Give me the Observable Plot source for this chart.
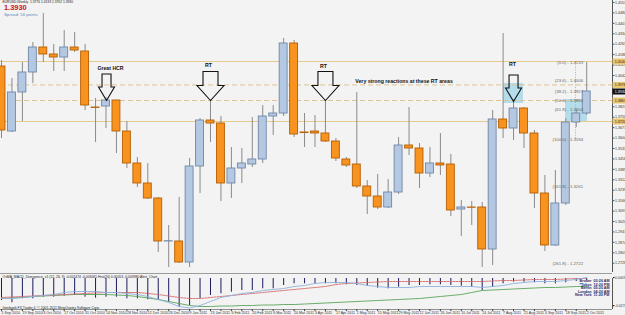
<!DOCTYPE html>
<html><head><meta charset="utf-8">
<script src="https://cdn.jsdelivr.net/npm/d3@7"></script>
<script src="https://cdn.jsdelivr.net/npm/@observablehq/plot@0.6"></script>
<style>
html,body{margin:0;padding:0;background:#f3f3f3;}
#wrap{position:relative;width:625px;height:315px;overflow:hidden;background:#f3f3f3;font-family:"Liberation Sans",Arial,sans-serif;}
#wrap svg{position:absolute;left:0;display:block;}
.sep{position:absolute;left:0;width:612px;height:1px;background:#9c9c9c;}
</style></head><body><div id="wrap"></div>
<script>
// ---------- data ----------
const symbolName = "EURUSD,Weekly";
const spreadText = "Spread: 56 points";
const dateLabels = ["5 Sep 2010","19 Sep 2010","3 Oct 2010","17 Oct 2010","31 Oct 2010","14 Nov 2010","28 Nov 2010","12 Dec 2010","26 Dec 2010","9 Jan 2011","23 Jan 2011","6 Feb 2011","20 Feb 2011","6 Mar 2011","20 Mar 2011","3 Apr 2011","17 Apr 2011","1 May 2011","15 May 2011","29 May 2011","12 Jun 2011","26 Jun 2011","10 Jul 2011","24 Jul 2011","7 Aug 2011","21 Aug 2011","4 Sep 2011","18 Sep 2011","2 Oct 2011"];
const open = [1.4105,1.3650,1.3923,1.4063,1.4238,1.4189,1.4168,1.4238,1.4210,1.3818,1.3825,1.3867,1.3650,1.3426,1.3286,1.3181,1.2880,1.2880,1.2733,1.3405,1.3727,1.3706,1.3286,1.3391,1.3419,1.3454,1.3755,1.3776,1.4266,1.3643,1.3650,1.3636,1.3580,1.3454,1.3419,1.3265,1.3195,1.3118,1.3223,1.3552,1.3531,1.3356,1.3426,1.3419,1.3104,1.3118,1.3118,1.2824,1.3734,1.3671,1.3811,1.3636,1.3216,1.2852,1.3146,1.3713,1.3776];
const high = [1.4147,1.4021,1.4133,1.4273,1.4476,1.4259,1.4357,1.4343,1.4259,1.3881,1.3888,1.3870,1.3720,1.3468,1.3426,1.3188,1.2992,1.3188,1.3461,1.3741,1.3867,1.3755,1.3538,1.3531,1.3748,1.3832,1.3832,1.4301,1.4287,1.3776,1.3762,1.3867,1.3601,1.3468,1.3923,1.3307,1.3349,1.3314,1.3608,1.3818,1.3566,1.3538,1.3636,1.3489,1.3167,1.3160,1.3153,1.3797,1.4336,1.3874,1.3818,1.3657,1.3342,1.3377,1.3741,1.3797,1.4133];
const low = [1.3601,1.3643,1.3720,1.3986,1.4133,1.4070,1.4070,1.4203,1.3797,1.3573,1.3671,1.3496,1.3391,1.3258,1.3174,1.2803,1.2698,1.2726,1.2698,1.3216,1.3573,1.3160,1.3181,1.3286,1.3398,1.3426,1.3622,1.3755,1.3608,1.3538,1.3538,1.3573,1.3440,1.3398,1.3251,1.3069,1.3104,1.3111,1.3209,1.3482,1.3251,1.3328,1.3342,1.3055,1.2915,1.2992,1.2698,1.2712,1.3601,1.3587,1.3531,1.3111,1.2810,1.2845,1.3132,1.3678,1.3762];
const close = [1.3657,1.3923,1.4063,1.4238,1.4189,1.4168,1.4238,1.4217,1.3832,1.3815,1.3867,1.3650,1.3426,1.3286,1.3181,1.2880,1.2882,1.2733,1.3405,1.3727,1.3706,1.3286,1.3391,1.3426,1.3454,1.3755,1.3776,1.4266,1.3629,1.3639,1.3636,1.3580,1.3461,1.3412,1.3265,1.3195,1.3118,1.3223,1.3552,1.3531,1.3356,1.3426,1.3412,1.3097,1.3118,1.3116,1.2824,1.3734,1.3671,1.3811,1.3636,1.3216,1.2852,1.3146,1.3713,1.3776,1.3930];

const priceTicks = [1.4553,1.4480,1.4407,1.4334,1.4261,1.4188,1.4115,1.4042,1.3823,1.3750,1.3677,1.3604,1.3531,1.3458,1.3385,1.3312,1.3239,1.3166,1.3093,1.3020,1.2947,1.2874,1.2801,1.2728];
const levelsSolid = [1.4140, 1.3720];
const levelsDashed = [1.3976, 1.3867];
const fibLevels = [0, 23.6, 38.2, 50, 61.8, 100, 161.8, 261.8];
const fibPrices = [1.4133, 1.4006, 1.3927, 1.3864, 1.3800, 1.3594, 1.3261, 1.2722];
const fibLineIndex = 54.93, fibLabelIndex = 55.65;
const zoneStart = [48.04, 53.97], zoneEnd = [49.95, 56.08], zoneTop = [1.3986, 1.3874], zoneBottom = [1.3846, 1.3713];
const arrowIndex = [10.05, 20.0, 31.0, 49.0], arrowTip = [1.3867, 1.3867, 1.3867, 1.3860], arrowKind = ["small","big","big","small"];
const noteText = ["Great HCR", "RT", "RT", "RT", "Very strong reactions at these RT areas"];
const noteIndex = [10.43, 19.8, 30.8, 48.9, 38.52];
const notePrice = [1.4091, 1.4112, 1.4105, 1.4119, 1.4000];

const osma = [-0.022,-0.0243,-0.0203,-0.0203,-0.0187,-0.0187,-0.0177,-0.017,-0.0187,-0.0197,-0.0187,-0.0187,-0.0203,-0.0203,-0.0213,-0.022,-0.0237,-0.0287,-0.027,-0.0203,-0.017,-0.0153,-0.0137,-0.012,-0.012,-0.0103,-0.0103,-0.007,-0.0053,-0.0053,-0.0053,-0.0053,-0.0053,-0.0063,-0.007,-0.0077,-0.0097,-0.0103,-0.0087,-0.007,-0.007,-0.0063,-0.0063,-0.007,-0.0077,-0.0087,-0.012,-0.0087,-0.0053,-0.0037,-0.0037,-0.0043,-0.0053,-0.0053,-0.0043,-0.003,-0.002];
const blueLine = [-0.020,-0.020,-0.019,-0.018,-0.017,-0.016,-0.014,-0.013,-0.013,-0.013,-0.014,-0.014,-0.015,-0.016,-0.018,-0.021,-0.024,-0.028,-0.0295,-0.027,-0.023,-0.019,-0.017,-0.015,-0.014,-0.012,-0.011,-0.010,-0.008,-0.007,-0.005,-0.004,-0.004,-0.004,-0.005,-0.007,-0.008,-0.009,-0.009,-0.009,-0.008,-0.008,-0.008,-0.008,-0.008,-0.008,-0.009,-0.008,-0.007,-0.005,-0.004,-0.003,-0.003,-0.003,-0.002,-0.001,0.001];
const redLine = [-0.019,-0.0185,-0.018,-0.0175,-0.017,-0.0165,-0.016,-0.0155,-0.015,-0.0145,-0.014,-0.014,-0.014,-0.014,-0.015,-0.016,-0.0175,-0.019,-0.020,-0.020,-0.019,-0.018,-0.017,-0.016,-0.015,-0.014,-0.013,-0.012,-0.011,-0.010,-0.009,-0.008,-0.006,-0.005,-0.0045,-0.004,-0.0035,-0.003,-0.003,-0.003,-0.003,-0.003,-0.003,-0.003,-0.003,-0.003,-0.003,-0.0025,-0.002,-0.002,-0.0015,-0.001,-0.001,-0.001,-0.0005,0,0];
const greenLine = [-0.020,-0.0195,-0.019,-0.018,-0.0175,-0.017,-0.0165,-0.016,-0.016,-0.016,-0.016,-0.0165,-0.017,-0.018,-0.0195,-0.021,-0.023,-0.025,-0.027,-0.028,-0.028,-0.0275,-0.0275,-0.027,-0.027,-0.0265,-0.0265,-0.026,-0.026,-0.0255,-0.025,-0.0245,-0.024,-0.0235,-0.023,-0.0225,-0.022,-0.0215,-0.021,-0.0205,-0.020,-0.019,-0.018,-0.017,-0.016,-0.014,-0.012,-0.0115,-0.011,-0.0105,-0.010,-0.0095,-0.009,-0.009,-0.0085,-0.008,-0.008];
const indTicks = [0.0009, -0.0272];
const indTitle = "OsMA_MACD_Divergence_v1 (12, 26, 9) -0.002474 -0.003065 Hist(20) 0.00053 -0.003980 Alert_Chart";
const copyright = "Interbank FX Trader 4, \u00a9 2001-2011 MetaQuotes Software Corp.";
const clockCities = ["Broker", "*Tokyo", "Berlin", "London", "New York"];
const clockTimes = ["03:20 AM", "12:20 PM", "05:20 AM", "04:20 AM", "11:20 PM"];

// ---------- build ----------
const xDomain = [-0.0957, 58.469];
const FONT = "'Liberation Sans', Arial, sans-serif";
const candles = open.map((o, i) => ({i, open: o, high: high[i], low: low[i], close: close[i], up: close[i] >= o}));
const last = candles[candles.length - 1];
const f4 = d => d.toFixed(4);
const headerLine = `${symbolName}  ${f4(last.open)} ${f4(last.high)} ${f4(last.low)} ${f4(last.close)}`;
const zones = zoneStart.map((s, k) => ({i1: s, i2: zoneEnd[k], top: zoneTop[k], bottom: zoneBottom[k]}));
const fib = fibLevels.map((l, k) => ({level: l, price: fibPrices[k]}));
const arrows = arrowIndex.map((x, k) => ({i: x, tip: arrowTip[k], kind: arrowKind[k]}));
const notes = noteText.map((t, k) => ({text: t, i: noteIndex[k], price: notePrice[k]}));
const highlights = [
  ...levelsSolid.map(p => ({price: p, bg: "#e9c770", fg: "#222"})),
  ...levelsDashed.map(p => ({price: p, bg: "#e9c770", fg: "#222"})),
  {price: last.close, bg: "#111", fg: "#fff"}
];

function arrowSymbol(shaftW, headW, shaftH, headH) {
  return {draw(ctx) {
    const s = shaftW / 2, h = headW / 2, H = shaftH + headH;
    ctx.moveTo(0, 0); ctx.lineTo(-h, -headH); ctx.lineTo(-s, -headH); ctx.lineTo(-s, -H);
    ctx.lineTo(s, -H); ctx.lineTo(s, -headH); ctx.lineTo(h, -headH); ctx.closePath();
  }};
}
const smallArrow = arrowSymbol(9, 16, 13, 13.5);
const bigArrow = arrowSymbol(15, 27, 14, 15);

const priceChart = Plot.plot({
  width: 625, height: 273,
  marginLeft: 0, marginRight: 13, marginTop: 0, marginBottom: 1,
  style: {background: "transparent", fontFamily: FONT, overflow: "visible"},
  x: {domain: xDomain, axis: null},
  y: {domain: [1.2663, 1.4567], label: null},
  marks: [
    Plot.rect(zones, {x1: "i1", x2: "i2", y1: "top", y2: "bottom", fill: "#9fd5ea", fillOpacity: 0.75}),
    Plot.ruleY(levelsSolid, {stroke: "#e6c98c", strokeWidth: 1}),
    Plot.ruleY(levelsDashed, {stroke: "#dcc496", strokeWidth: 1, strokeDasharray: "5,3"}),
    Plot.ruleX([{i: fibLineIndex, a: fibPrices[0], b: fibPrices[5]}], {x: "i", y1: "a", y2: "b", stroke: "#e59a9a", strokeDasharray: "1,1.5"}),
    Plot.ruleX(candles, {x: "i", y1: "low", y2: "high", stroke: "#8a8a8a", strokeWidth: 1}),
    Plot.rect(candles, {x1: d => d.i - 0.38, x2: d => d.i + 0.38, y1: "open", y2: "close",
      fill: d => d.up ? "#b5c8e1" : "#f7931e", stroke: d => d.up ? "#6f87a8" : "#b65f05", strokeWidth: 0.9}),
    Plot.text(fib, {x: () => fibLabelIndex, y: "price", text: d => `(${d.level.toFixed(1)}) - ${f4(d.price)}`,
      textAnchor: "end", fontSize: 4.3, fill: "#666"}),
    Plot.dot(arrows.filter(d => d.kind === "small"), {x: "i", y: "tip", symbol: smallArrow, fill: "none", stroke: "#111", strokeWidth: 1.1}),
    Plot.dot(arrows.filter(d => d.kind === "big"), {x: "i", y: "tip", symbol: bigArrow, fill: "none", stroke: "#111", strokeWidth: 1.1}),
    Plot.text(notes, {x: "i", y: "price", text: "text", fontSize: 5.2, fontWeight: "bold", fill: "#111"}),
    Plot.ruleX([xDomain[1]], {stroke: "#555", strokeWidth: 1}),
    Plot.axisY({anchor: "right", ticks: priceTicks, tickFormat: f4, tickSize: 1.5, tickPadding: 1, fontSize: 3.6, fill: "#333", stroke: "#555", label: null}),
    Plot.ruleY(highlights, {y: "price", x1: () => xDomain[1] + 0.05, x2: () => xDomain[1] + 1.5, stroke: "bg", strokeWidth: 6}),
    Plot.text(highlights, {y: "price", frameAnchor: "right", dx: 2.3, textAnchor: "start", text: d => f4(d.price), fontSize: 3.6, fill: "fg"}),
    Plot.text([headerLine], {text: d => d, frameAnchor: "top-left", dx: 2, dy: 0.6, fontSize: 3.3, fill: "#222", textAnchor: "start"}),
    Plot.text([f4(last.close)], {text: d => d, frameAnchor: "top-left", dx: 3.5, dy: 4.6, fontSize: 7.4, fontWeight: "bold", fill: "#c8102e", textAnchor: "start"}),
    Plot.text([spreadText], {text: d => d, frameAnchor: "top-left", dx: 3.5, dy: 12.2, fontSize: 4.3, fill: "#5d8ac0", textAnchor: "start"})
  ]
});

const ind = osma.map((v, i) => ({i, osma: v, blue: blueLine[i], red: redLine[i], green: greenLine[i]}));
const allIdx = d3.range(open.length);
const evenIdx = allIdx.filter(i => i % 2 === 0);
const indChart = Plot.plot({
  width: 625, height: 41,
  marginLeft: 0, marginRight: 13, marginTop: 4, marginBottom: 6,
  style: {background: "transparent", fontFamily: FONT, overflow: "visible"},
  x: {domain: xDomain, label: null},
  y: {domain: [-0.031, 0], label: null},
  marks: [
    Plot.ruleX(ind, {x: "i", y1: 0, y2: "osma", stroke: "#1b1b5e", strokeWidth: 1}),
    Plot.line(ind, {x: "i", y: "green", stroke: "#5aa55a", strokeWidth: 0.9}),
    Plot.line(ind, {x: "i", y: "red", stroke: "#d66a6a", strokeWidth: 0.9, strokeDasharray: "2,1"}),
    Plot.line(ind, {x: "i", y: "blue", stroke: "#8fb2de", strokeWidth: 0.9}),
    Plot.text([indTitle], {text: d => d, frameAnchor: "top-left", dx: 2, dy: -2.6, fontSize: 3.4, fill: "#222", textAnchor: "start"}),
    Plot.text([copyright], {text: d => d, frameAnchor: "bottom-left", dx: 2, dy: -0.6, fontSize: 3.4, fill: "#222", textAnchor: "start"}),
    Plot.text([clockCities.join("\n")], {text: d => d, frameAnchor: "top-right", dx: -21, dy: 1.5, lineHeight: 0.92, fontSize: 3.7, fontWeight: "bold", fill: "#1c2a6a", textAnchor: "end"}),
    Plot.text([clockTimes.join("\n")], {text: d => d, frameAnchor: "top-right", dx: -19, dy: 1.5, lineHeight: 0.92, fontSize: 3.7, fontWeight: "bold", fill: "#1c2a6a", textAnchor: "start"}),
    Plot.ruleY([-0.031], {stroke: "#777", strokeWidth: 0.8}),
    Plot.ruleX([xDomain[1]], {stroke: "#555", strokeWidth: 1}),
    Plot.axisY({anchor: "right", ticks: indTicks, tickFormat: f4, tickSize: 1.5, tickPadding: 1, fontSize: 3.4, fill: "#333", label: null}),
    Plot.axisX({ticks: allIdx, tickFormat: () => "", tickSize: 2.2, stroke: "#444", label: null}),
    Plot.axisX({ticks: evenIdx, tickFormat: i => dateLabels[i / 2], tickSize: 0, tickPadding: 1.6, textAnchor: "start", fontSize: 3.6, fill: "#333", label: null})
  ]
});

const wrap = document.getElementById("wrap");
priceChart.style.top = "0px";
indChart.style.top = "274px";
wrap.appendChild(priceChart);
const s1 = document.createElement("div"); s1.className = "sep"; s1.style.top = "273px"; wrap.appendChild(s1);
wrap.appendChild(indChart);
</script></body></html>
